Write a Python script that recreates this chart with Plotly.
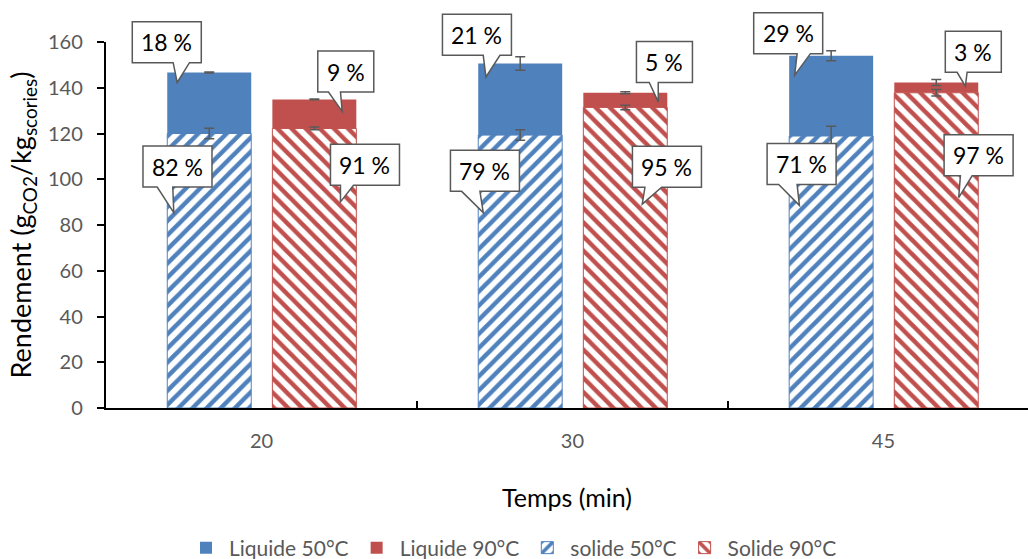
import plotly.graph_objects as go

# Temps de réaction (min)
temps = ["20", "30", "45"]

# Rendement (g CO2 / kg scories), part solide et part liquide
solide_50 = [120.0, 119.3, 118.9]
liquide_50 = [26.7, 31.3, 35.1]
solide_90 = [122.2, 131.4, 137.8]
liquide_90 = [12.7, 6.4, 4.5]

# Écarts-types
err_solide_50 = [2.3, 2.3, 4.3]
err_liquide_50 = [0.2, 3.0, 2.2]
err_solide_90 = [0.6, 1.0, 1.4]
err_liquide_90 = [0.2, 0.4, 1.3]

# Répartition liquide / solide
part_liquide_50 = ["18 %", "21 %", "29 %"]
part_solide_50 = ["82 %", "79 %", "71 %"]
part_liquide_90 = ["9 %", "5 %", "3 %"]
part_solide_90 = ["91 %", "95 %", "97 %"]

BLUE = "#4F81BD"
RED = "#C0504D"
GREY = "#595959"
FONT = "Lato"
Y_MAX = 160

BAR_W = 0.27
OFF_50 = -0.303
OFF_90 = 0.035

err_style = dict(type="data", visible=True, color=GREY, thickness=1.5, width=5)

fig = go.Figure()

# liquid segments first so the error bars of the solid segments stay visible
fig.add_trace(go.Bar(
    name="Liquide 50°C", x=temps, y=liquide_50, base=solide_50,
    width=BAR_W, offset=OFF_50, legendrank=1,
    marker=dict(color=BLUE, line=dict(width=0)),
    error_y=dict(array=err_liquide_50, **err_style),
))
fig.add_trace(go.Bar(
    name="Liquide 90°C", x=temps, y=liquide_90, base=solide_90,
    width=BAR_W, offset=OFF_90, legendrank=2,
    marker=dict(color=RED, line=dict(width=0)),
    error_y=dict(array=err_liquide_90, **err_style),
))
fig.add_trace(go.Bar(
    name="solide 50°C", x=temps, y=solide_50,
    width=BAR_W, offset=OFF_50, legendrank=3,
    marker=dict(color="white", line=dict(color=BLUE, width=1),
                pattern=dict(shape="/", fgcolor=BLUE, bgcolor="white", fgopacity=1,
                             size=10, solidity=0.45, fillmode="overlay")),
    error_y=dict(array=err_solide_50, **err_style),
))
fig.add_trace(go.Bar(
    name="Solide 90°C", x=temps, y=solide_90,
    width=BAR_W, offset=OFF_90, legendrank=4,
    marker=dict(color="white", line=dict(color=RED, width=1),
                pattern=dict(shape="\\", fgcolor=RED, bgcolor="white", fgopacity=1,
                             size=10, solidity=0.45, fillmode="overlay")),
    error_y=dict(array=err_solide_90, **err_style),
))

# Bulles d'étiquettes : pointe (valeur y, décalage px depuis le centre de la catégorie),
# centre de la bulle relatif à la pointe (px, y vers le bas), base du bec (px)
bulles = [
    ("20", part_liquide_50[0], 142.3, -84.3, -10.4, -40.3, -4.0, 12.3),
    ("20", part_liquide_90[0], 129.7, 80.7, 3.6, -39.7, -13.7, -1.7),
    ("20", part_solide_50[0], 85.4, -87.7, 3.7, -46.1, -16.6, -1.0),
    ("20", part_solide_90[0], 90.1, 79.0, 24.5, -37.2, 0.0, 13.0),
    ("30", part_liquide_50[1], 144.7, -86.5, -9.0, -42.2, -2.7, 14.0),
    ("30", part_liquide_90[1], 133.8, 85.8, 6.2, -39.9, -9.0, 0.0),
    ("30", part_solide_50[1], 85.4, -89.2, 1.7, -41.8, -21.6, -3.3),
    ("30", part_solide_90[1], 89.1, 69.8, 24.7, -37.4, 2.7, 19.4),
    ("45", part_liquide_50[2], 145.5, -88.7, -6.5, -42.0, 2.4, 15.7),
    ("45", part_liquide_90[2], 140.7, 82.0, 7.9, -34.4, -8.3, 1.7),
    ("45", part_solide_50[2], 88.6, -84.0, 2.2, -41.4, -20.7, -2.3),
    ("45", part_solide_90[2], 92.0, 75.3, 19.9, -42.3, 1.7, 13.4),
]
BOX_H = 41

for cat, txt, ty, tx, cx, cy, wl, wr in bulles:
    pos = temps.index(cat)
    w = 56 if len(txt) <= 3 else 69
    bx = tx + cx
    by = -cy
    left, right = bx - w / 2, bx + w / 2
    bottom, top = by - BOX_H / 2, by + BOX_H / 2
    path = (f"M{tx:.1f},0 L{tx + wr:.1f},{bottom:.1f} L{right:.1f},{bottom:.1f} "
            f"L{right:.1f},{top:.1f} L{left:.1f},{top:.1f} L{left:.1f},{bottom:.1f} "
            f"L{tx + wl:.1f},{bottom:.1f} Z")
    # y anchored in axis-domain units so the bubble is not clipped at the top of the plot
    fig.add_shape(
        type="path", path=path, layer="above",
        xref="x", yref="y domain", xsizemode="pixel", ysizemode="pixel",
        xanchor=pos, yanchor=ty / Y_MAX,
        fillcolor="white", line=dict(color=GREY, width=1.5),
    )
    fig.add_annotation(
        x=pos, y=ty, xref="x", yref="y", xshift=bx, yshift=by,
        text=txt, showarrow=False,
        font=dict(family=FONT, size=23, color="black"),
    )

fig.update_layout(
    width=1028, height=559,
    barmode="overlay",
    paper_bgcolor="white", plot_bgcolor="white",
    font=dict(family=FONT, color=GREY),
    margin=dict(l=106, r=0, t=42, b=151, pad=0, autoexpand=False),
    showlegend=True,
    legend=dict(
        orientation="h", x=0.0835, y=-0.3825, xanchor="left", yanchor="middle",
        font=dict(family=FONT, size=21, color=GREY),
        itemwidth=36, traceorder="normal", bgcolor="rgba(0,0,0,0)",
    ),
    xaxis=dict(
        type="category", range=[-0.5, 2.465],
        showline=True, linecolor="black", linewidth=1.5,
        ticks="inside", tickson="boundaries", ticklen=7, tickcolor="black", tickwidth=1.5,
        tickfont=dict(family=FONT, size=20, color=GREY),
        ticklabelstandoff=14,
        showgrid=False, zeroline=False, automargin=False,
        title=dict(text="Temps (min)", standoff=39,
                   font=dict(family=FONT, size=25, color="black")),
    ),
    yaxis=dict(
        range=[0, Y_MAX], dtick=20,
        showline=True, linecolor="black", linewidth=1.5,
        ticks="outside", ticklen=7.5, tickcolor="black", tickwidth=1.5,
        tickfont=dict(family=FONT, size=20, color=GREY),
        ticklabelstandoff=10,
        showgrid=False, zeroline=False, automargin=False,
        title=dict(text="Rendement (g<sub>CO2</sub>/kg<sub>scories</sub>)", standoff=8,
                   font=dict(family=FONT, size=27, color="black")),
    ),
)

fig.write_html("out.html")
